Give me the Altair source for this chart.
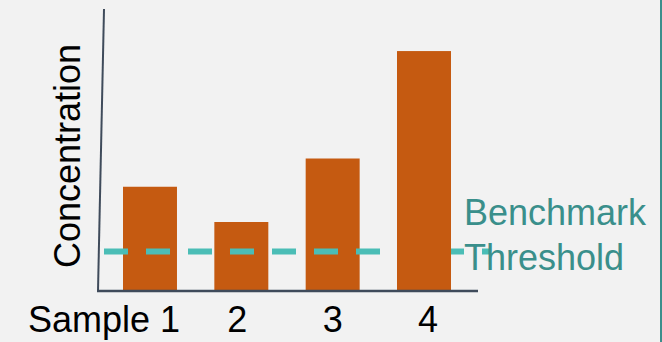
import altair as alt
import pandas as pd

# Sample concentrations and the benchmark threshold
samples = ["Sample 1", "2", "3", "4"]
concentration = [37, 24.5, 47, 85]
threshold = 14

FONT = "Liberation Sans"
BAR = "#c55a11"
DASH = "#4bbdb6"
TEAL_TEXT = "#3a8f8b"
AXIS = "#3f4b5b"

bars_df = pd.DataFrame({"sample": samples, "value": concentration})
thr_df = pd.DataFrame({"value": [threshold], "label": ["Benchmark"], "label2": ["Threshold"]})

x_scale = alt.Scale(domain=samples, range=[123, 451], paddingInner=0.409, paddingOuter=0)
y_scale = alt.Scale(domain=[0, 100], range=[291, 9])

x_enc = alt.X("sample:N", scale=x_scale, sort=samples, axis=None)
y_enc = alt.Y("value:Q", scale=y_scale, axis=None)

base = alt.Chart(bars_df)

bars = base.mark_bar(color=BAR).encode(x=x_enc, y=y_enc, y2=alt.datum(0))

# the tallest sample sits in front of the threshold line
front_bar = base.transform_filter("datum.sample == '4'").mark_bar(color=BAR).encode(
    x=x_enc, y=y_enc, y2=alt.datum(0)
)

thr_line = alt.Chart(thr_df).mark_rule(
    color=DASH, strokeWidth=6, strokeDash=[24, 18], strokeCap="butt"
).encode(y=y_enc, x=alt.value(104), x2=alt.value(489))

thr_text1 = alt.Chart(thr_df).mark_text(
    font=FONT, fontSize=36, color=TEAL_TEXT, align="left", baseline="alphabetic"
).encode(text="label:N", x=alt.value(464), y=alt.value(225))

thr_text2 = alt.Chart(thr_df).mark_text(
    font=FONT, fontSize=36, color=TEAL_TEXT, align="left", baseline="alphabetic"
).encode(text="label2:N", x=alt.value(464), y=alt.value(270))

# hand-drawn style axes
y_axis_line = alt.Chart(thr_df).mark_rule(color=AXIS, strokeWidth=2).encode(
    x=alt.value(104), y=alt.value(9), x2=alt.value(98), y2=alt.value(291)
)
x_axis_line = alt.Chart(thr_df).mark_rule(color=AXIS, strokeWidth=2.5).encode(
    x=alt.value(97), x2=alt.value(478), y=alt.value(291)
)


def tick_label(name, align="center", dx=0):
    return base.transform_filter(f"datum.sample == '{name}'").mark_text(
        font=FONT, fontSize=36, color="#000000", align=align, baseline="alphabetic", dx=dx
    ).encode(x=x_enc, y=alt.value(332), text="sample:N")


labels = [
    tick_label("Sample 1", align="right", dx=30),
    tick_label("2", dx=-4),
    tick_label("3"),
    tick_label("4", dx=4),
]

y_title = alt.Chart(thr_df).mark_text(
    font=FONT, fontSize=36, color="#000000", align="center", baseline="alphabetic", angle=270
).encode(x=alt.value(80), y=alt.value(156), text=alt.value("Concentration"))

frame = alt.Chart(thr_df).mark_rule(color="#3b8f8c", strokeWidth=2).encode(
    x=alt.value(661), y=alt.value(0), y2=alt.value(342)
)

chart = alt.layer(
    bars, thr_line, front_bar, thr_text1, thr_text2,
    y_axis_line, x_axis_line, *labels, y_title, frame
).properties(
    width=662, height=342, background="#f2f2f2", padding=0,
    autosize=alt.AutoSizeParams(type="none")
).configure_view(stroke=None)

chart.save("out.html", embed_options={"renderer": "svg", "actions": False})
